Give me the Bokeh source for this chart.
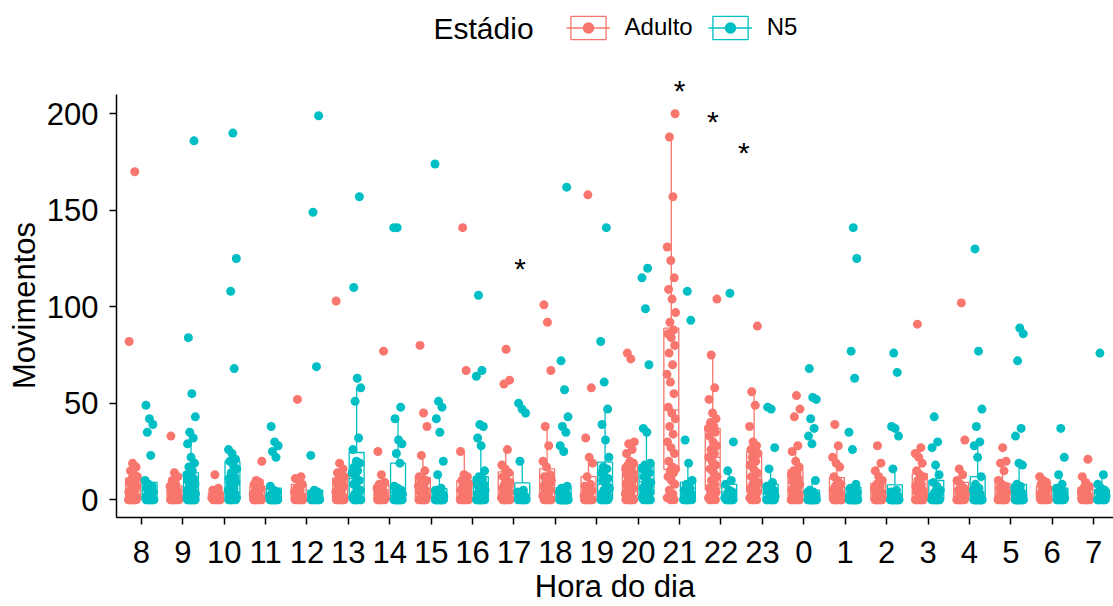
import numpy as np
from bokeh.plotting import figure
from bokeh.models import ColumnDataSource, FixedTicker, Legend, LegendItem, Label, Range1d, Title
from bokeh.embed import file_html
from bokeh.resources import INLINE

# ---------------- data ----------------
hours = ["8", "9", "10", "11", "12", "13", "14", "15", "16", "17", "18", "19",
         "20", "21", "22", "23", "0", "1", "2", "3", "4", "5", "6", "7"]
groups = ["Adulto", "N5"]
colors = ["#F8766D", "#00BFC4"]

# Movimentos per hour, estádio Adulto
A08 = [0, 0, 0, 0, 0, 0, 0, 0, 1, 1, 2, 2, 3, 4, 5, 6, 7, 8, 9, 10, 11, 12, 13, 15, 17, 19, 82, 170]
A09 = [0, 0, 0, 0, 0, 0, 0, 1, 1, 2, 3, 4, 5, 6, 7, 8, 10, 12, 14, 33]
A10 = [0, 0, 0, 0, 0, 0, 1, 1, 2, 2, 3, 4, 5, 6, 13]
A11 = [0, 0, 0, 0, 0, 0, 1, 2, 3, 4, 5, 6, 7, 8, 9, 10, 20]
A12 = [0, 0, 0, 0, 0, 0, 1, 2, 3, 4, 5, 6, 8, 10, 11, 12, 52]
A13 = [0, 0, 0, 0, 0, 0, 0, 1, 2, 3, 4, 5, 6, 7, 8, 9, 10, 11, 12, 13, 14, 16, 19, 103]
A14 = [0, 0, 0, 0, 0, 0, 1, 2, 3, 4, 5, 6, 7, 8, 9, 13, 25, 77]
A15 = [0, 0, 0, 0, 0, 0, 1, 2, 3, 4, 5, 6, 7, 8, 9, 10, 11, 12, 15, 23, 38, 45, 80]
A16 = [0, 0, 0, 0, 0, 0, 1, 2, 3, 4, 5, 6, 7, 8, 9, 10, 12, 13, 25, 67, 141]
A17 = [0, 0, 0, 0, 0, 0, 1, 2, 3, 4, 5, 6, 7, 8, 9, 10, 12, 14, 16, 18, 26, 60, 62, 78]
A18 = [0, 0, 0, 0, 0, 0, 1, 2, 3, 4, 5, 6, 7, 8, 9, 10, 11, 12, 13, 17, 20, 28, 38, 67, 92, 101]
A19 = [0, 0, 0, 0, 0, 0, 0, 1, 2, 3, 4, 5, 6, 7, 8, 12, 19, 22, 32, 58, 158]
A20 = [0, 0, 0, 0, 0, 0, 1, 1, 2, 3, 4, 5, 6, 7, 8, 9, 10, 11, 12, 13, 14, 15, 16, 17, 18, 19,
       20, 24, 26, 29, 30, 73, 76]
A21 = [0, 0, 1, 3, 5, 8, 10, 12, 14, 15, 16, 17, 20, 24, 27, 30, 34, 38, 42, 45, 48, 55, 61, 65,
       70, 76, 80, 84, 86, 88, 92, 97, 104, 109, 115, 124, 131, 157, 188, 200]
A22 = [0, 0, 0, 1, 2, 3, 4, 5, 6, 8, 10, 12, 14, 16, 18, 20, 22, 24, 26, 28, 30, 33, 35, 36, 37,
       38, 40, 42, 45, 52, 58, 75, 104]
A23 = [0, 0, 0, 0, 1, 2, 3, 4, 5, 6, 7, 8, 9, 10, 12, 14, 16, 18, 20, 22, 24, 25, 26, 28, 30,
       38, 49, 56, 90]
A00 = [0, 0, 0, 0, 0, 0, 1, 2, 3, 4, 5, 6, 7, 8, 9, 10, 11, 12, 13, 14, 15, 17, 20, 25, 28, 43, 47, 54]
A01 = [0, 0, 0, 0, 0, 0, 0, 1, 2, 3, 4, 5, 6, 7, 8, 10, 12, 17, 19, 22, 28, 39]
A02 = [0, 0, 0, 0, 0, 0, 0, 1, 2, 3, 4, 5, 6, 7, 8, 10, 12, 15, 19, 28]
A03 = [0, 0, 0, 0, 0, 0, 0, 1, 2, 3, 4, 5, 6, 7, 8, 10, 12, 13, 15, 19, 22, 24, 27, 91]
A04 = [0, 0, 0, 0, 0, 0, 0, 1, 2, 3, 4, 5, 6, 8, 10, 13, 16, 31, 102]
A05 = [0, 0, 0, 0, 0, 0, 0, 1, 2, 3, 4, 5, 6, 7, 8, 10, 15, 19, 20, 27]
A06 = [0, 0, 0, 0, 0, 0, 1, 2, 3, 4, 5, 6, 7, 8, 9, 10, 12]
A07 = [0, 0, 0, 0, 0, 0, 1, 2, 3, 4, 5, 6, 7, 9, 12, 21]

# Movimentos per hour, estádio N5
N08 = [0, 0, 0, 0, 0, 0, 0, 0, 1, 1, 2, 3, 4, 5, 6, 7, 8, 10, 23, 35, 39, 42, 49]
N09 = [0, 0, 0, 0, 0, 0, 0, 0, 0, 0, 1, 1, 1, 1, 2, 2, 2, 3, 3, 3, 4, 4, 5, 5, 6, 7, 8, 9, 10, 11,
       12, 13, 15, 17, 19, 22, 29, 32, 35, 43, 55, 84, 186]
N10 = [0, 0, 0, 0, 0, 0, 1, 1, 2, 3, 4, 5, 6, 8, 9, 10, 11, 12, 14, 16, 18, 20, 21, 24, 26, 68,
       108, 125, 190]
N11 = [0, 0, 0, 0, 0, 0, 0, 0, 0, 0, 1, 1, 2, 2, 3, 4, 5, 7, 22, 25, 28, 30, 38]
N12 = [0, 0, 0, 0, 0, 0, 0, 1, 1, 2, 3, 4, 5, 23, 69, 149, 199]
N13 = [0, 0, 0, 0, 0, 0, 1, 2, 3, 5, 6, 8, 10, 12, 14, 15, 17, 19, 20, 26, 32, 51, 58, 63, 110, 157]
N14 = [0, 0, 0, 0, 0, 0, 0, 0, 0, 0, 1, 1, 1, 2, 2, 3, 3, 4, 5, 6, 7, 19, 24, 29, 31, 42, 48, 141, 141]
N15 = [0, 0, 0, 0, 0, 0, 0, 0, 0, 0, 0, 0, 1, 1, 1, 1, 2, 2, 3, 3, 4, 5, 6, 13, 20, 35, 42, 48, 51, 174]
N16 = [0, 0, 0, 0, 0, 0, 0, 0, 0, 0, 1, 1, 2, 2, 3, 3, 4, 5, 6, 7, 8, 9, 10, 11, 12, 15, 28, 32,
       38, 39, 64, 67, 106]
N17 = [0, 0, 0, 0, 0, 0, 0, 1, 2, 3, 4, 5, 20, 45, 47, 50]
N18 = [0, 0, 0, 0, 0, 0, 0, 0, 0, 0, 0, 0, 0, 0, 0, 0, 1, 1, 1, 2, 2, 2, 3, 3, 4, 5, 6, 7, 25,
       28, 35, 38, 43, 57, 72, 162]
N19 = [0, 0, 0, 0, 0, 0, 0, 1, 2, 3, 4, 5, 6, 8, 10, 11, 12, 14, 16, 17, 22, 31, 39, 47, 61, 82, 141]
N20 = [0, 0, 0, 0, 0, 1, 2, 3, 4, 5, 6, 7, 8, 9, 10, 12, 14, 15, 16, 17, 18, 19, 35, 37, 70, 99,
       115, 120]
N21 = [0, 0, 0, 0, 0, 0, 0, 1, 2, 3, 4, 5, 6, 8, 10, 19, 31, 93, 108]
N22 = [0, 0, 0, 0, 0, 0, 0, 1, 2, 3, 4, 5, 8, 10, 15, 30, 107]
N23 = [0, 0, 0, 0, 0, 0, 0, 1, 2, 3, 4, 5, 6, 7, 9, 16, 27, 47, 48]
N00 = [0, 0, 0, 0, 0, 0, 0, 0, 0, 0, 0, 1, 1, 1, 1, 2, 2, 2, 3, 3, 3, 4, 4, 4, 5, 10, 29, 33, 37,
       42, 52, 53, 68]
N01 = [0, 0, 0, 0, 0, 0, 0, 0, 0, 0, 0, 0, 1, 1, 1, 2, 2, 3, 4, 5, 6, 8, 26, 35, 63, 77, 125, 141]
N02 = [0, 0, 0, 0, 0, 0, 0, 0, 0, 0, 0, 0, 1, 1, 2, 3, 4, 5, 16, 33, 37, 38, 66, 76]
N03 = [0, 0, 0, 0, 0, 0, 0, 0, 1, 2, 3, 4, 5, 7, 9, 13, 18, 27, 30, 43]
N04 = [0, 0, 0, 0, 0, 0, 0, 0, 0, 0, 0, 0, 0, 0, 1, 2, 3, 4, 5, 6, 8, 12, 22, 28, 30, 38, 47, 77, 130]
N05 = [0, 0, 0, 0, 0, 0, 0, 0, 0, 0, 0, 0, 1, 1, 2, 2, 3, 4, 5, 6, 7, 8, 18, 19, 33, 37, 72, 86, 89]
N06 = [0, 0, 0, 0, 0, 0, 0, 1, 2, 3, 4, 5, 6, 8, 13, 22, 37]
N07 = [0, 0, 0, 0, 0, 0, 0, 1, 2, 3, 4, 5, 6, 8, 13, 76]

adulto = [A08, A09, A10, A11, A12, A13, A14, A15, A16, A17, A18, A19,
          A20, A21, A22, A23, A00, A01, A02, A03, A04, A05, A06, A07]
n5 = [N08, N09, N10, N11, N12, N13, N14, N15, N16, N17, N18, N19,
      N20, N21, N22, N23, N00, N01, N02, N03, N04, N05, N06, N07]

# significance marks (x in category index, y in Movimentos)
ast_x = [13.0, 13.8, 14.55, 9.15]
ast_y = [212, 196, 180, 120]

# ---------------- figure ----------------
FONT = "Liberation Sans"
Y_AXIS_TOP = 210
p = figure(width=1113, height=606,
           x_range=Range1d(-0.6, 23.48), y_range=Range1d(-9.17, 258.7),
           output_backend="svg", toolbar_location=None,
           min_border_left=116, min_border_right=0,
           min_border_top=0, min_border_bottom=89)
p.background_fill_color = "white"
p.border_fill_color = "white"
p.outline_line_color = None
p.xgrid.visible = False
p.ygrid.visible = False

DODGE = 0.2
BOX_W = 0.36
JIT = 0.11

series = [adulto, n5]
box_r, med_r, pt_r = [], [], []

# boxes first (drawn beneath the points)
for g, data in enumerate(series):
    off = -DODGE if g == 0 else DODGE
    cols = dict(x=[], left=[], right=[], q1=[], q3=[], med=[], lo=[], hi=[])
    for k, vals in enumerate(data):
        v = np.asarray(vals, dtype=float)
        q1, med, q3 = np.percentile(v, [25, 50, 75])
        iqr = q3 - q1
        hi = v[v <= q3 + 1.5 * iqr].max()
        lo = v[v >= q1 - 1.5 * iqr].min()
        c = k + off
        cols["x"].append(c)
        cols["left"].append(c - BOX_W / 2)
        cols["right"].append(c + BOX_W / 2)
        cols["q1"].append(q1)
        cols["q3"].append(q3)
        cols["med"].append(med)
        cols["lo"].append(lo)
        cols["hi"].append(hi)
    src = ColumnDataSource(cols)
    col = colors[g]
    p.segment(x0="x", y0="q3", x1="x", y1="hi", source=src, line_color=col, line_width=1.3)
    p.segment(x0="x", y0="lo", x1="x", y1="q1", source=src, line_color=col, line_width=1.3)
    b = p.quad(left="left", right="right", bottom="q1", top="q3", source=src,
               fill_color="white", line_color=col, line_width=1.3)
    m = p.segment(x0="left", y0="med", x1="right", y1="med", source=src,
                  line_color=col, line_width=1.3)
    box_r.append(b)
    med_r.append(m)

# jittered points
for g, data in enumerate(series):
    off = -DODGE if g == 0 else DODGE
    xs, ys = [], []
    for k, vals in enumerate(data):
        for i, val in enumerate(vals):
            frac = (i * 0.6180339887 + 0.37 * k + 0.5 * g) % 1.0
            xs.append(k + off + (2 * frac - 1) * JIT)
            ys.append(val)
    r = p.scatter(x=xs, y=ys, size=9, fill_color=colors[g], line_color=None)
    pt_r.append(r)

# ---------------- axes ----------------
p.xaxis.ticker = FixedTicker(ticks=list(range(len(hours))))
p.xaxis.major_label_overrides = {i: h for i, h in enumerate(hours)}
p.yaxis.ticker = FixedTicker(ticks=[0, 50, 100, 150, 200])
p.yaxis.bounds = (-9.17, Y_AXIS_TOP)
p.xaxis.axis_label = "Hora do dia"
for ax in (p.xaxis[0], p.yaxis[0]):
    ax.axis_line_color = "black"
    ax.axis_line_width = 1.5
    ax.major_tick_line_color = "black"
    ax.major_tick_line_width = 1.5
    ax.major_tick_in = 0
    ax.major_tick_out = 7
    ax.minor_tick_line_color = None
    ax.major_label_text_font = FONT
    ax.major_label_text_font_size = "31px"
    ax.major_label_text_color = "black"
    ax.axis_label_text_font = FONT
    ax.axis_label_text_font_size = "31px"
    ax.axis_label_text_font_style = "normal"
    ax.axis_label_text_color = "black"
p.xaxis.major_label_standoff = 16
p.xaxis.axis_label_standoff = 3
p.yaxis.major_label_standoff = 11

# y-axis title, centred on the drawn part of the axis (0..210)
p.add_layout(Title(text="Movimentos", align="left", offset=128.5, standoff=4,
                   text_font=FONT, text_font_size="31px", text_font_style="normal",
                   text_color="black"), "left")

# ---------------- legend ----------------
legend = Legend(items=[LegendItem(label=groups[g], renderers=[box_r[g], med_r[g], pt_r[g]])
                       for g in range(2)],
                orientation="horizontal", location=(449.6, 475.2),
                glyph_width=44, glyph_height=29, label_standoff=15, spacing=15,
                padding=0, margin=0, border_line_color=None, background_fill_alpha=0,
                label_text_font=FONT, label_text_font_size="24px", label_text_color="black")
p.add_layout(legend)

p.add_layout(Label(x=7.057, y=244.2, text="Estádio", text_font=FONT, text_font_size="30px",
                   text_color="black", text_baseline="alphabetic", text_align="left"))

for ax_x, ax_y in zip(ast_x, ast_y):
    p.add_layout(Label(x=ax_x, y=ax_y, text="*", text_font=FONT, text_font_size="30px",
                       text_color="black", text_align="center", text_baseline="middle"))

open("out.html", "w").write(file_html(p, INLINE))
